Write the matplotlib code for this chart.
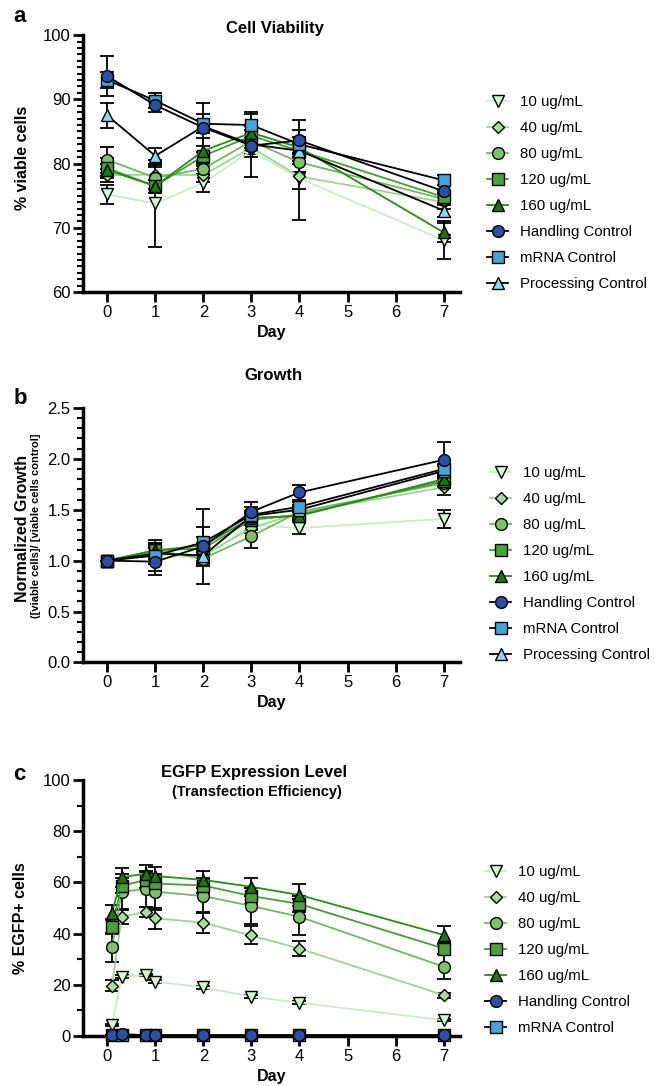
import numpy as np
import matplotlib
matplotlib.use("Agg")
from matplotlib import pyplot as plt
from matplotlib.ticker import MultipleLocator

plt.rcParams["font.family"] = ["Liberation Sans", "DejaVu Sans"]

days = [0, 1, 2, 3, 4, 7]
days_c = [0.1, 0.3, 0.8, 1, 2, 3, 4, 7]

labels = ["10 ug/mL", "40 ug/mL", "80 ug/mL", "120 ug/mL", "160 ug/mL",
          "Handling Control", "mRNA Control", "Processing Control"]

# panel a: % viable cells
via_10 = [75.2, 73.8, 77.0, 82.0, 77.7, 68.1]
via_40 = [78.2, 78.3, 78.2, 82.5, 78.0, 74.0]
via_80 = [80.6, 77.8, 79.2, 83.5, 80.2, 74.5]
via_120 = [79.3, 76.5, 81.2, 84.3, 82.0, 74.8]
via_160 = [79.0, 76.5, 82.0, 84.8, 82.5, 69.3]
via_hand = [93.6, 89.1, 85.6, 82.8, 83.6, 75.7]
via_mrna = [93.0, 89.8, 86.2, 86.0, 83.0, 77.4]
via_proc = [87.5, 81.2, 85.8, 83.0, 82.0, 72.7]
via_err_10 = [1.5, 6.7, 1.4, 1.0, 6.4, 3.0]
via_err_40 = [1.0, 1.5, 1.0, 1.0, 2.0, 1.0]
via_err_80 = [2.0, 1.7, 1.0, 1.0, 1.5, 1.0]
via_err_120 = [1.5, 1.0, 1.5, 1.0, 1.0, 1.0]
via_err_160 = [1.0, 1.0, 2.0, 1.0, 1.0, 1.5]
via_err_hand = [3.1, 1.0, 3.8, 4.9, 3.2, 1.0]
via_err_mrna = [1.3, 1.2, 1.5, 2.0, 2.2, 0.8]
via_err_proc = [2.0, 1.3, 1.0, 1.0, 1.0, 1.0]

# panel b: normalized growth
gro_10 = [1.0, 1.05, 1.03, 1.35, 1.32, 1.41]
gro_40 = [1.0, 1.08, 1.05, 1.32, 1.47, 1.72]
gro_80 = [1.0, 1.10, 1.02, 1.24, 1.48, 1.76]
gro_120 = [1.0, 1.10, 1.12, 1.40, 1.45, 1.78]
gro_160 = [1.0, 1.10, 1.15, 1.42, 1.44, 1.80]
gro_hand = [1.0, 0.99, 1.14, 1.48, 1.67, 1.99]
gro_mrna = [1.0, 1.05, 1.18, 1.45, 1.53, 1.90]
gro_proc = [1.0, 1.07, 1.05, 1.44, 1.50, 1.88]
gro_err_10 = [0.0, 0.08, 0.05, 0.05, 0.06, 0.09]
gro_err_40 = [0.0, 0.06, 0.05, 0.05, 0.05, 0.08]
gro_err_80 = [0.0, 0.06, 0.05, 0.12, 0.05, 0.05]
gro_err_120 = [0.0, 0.06, 0.05, 0.05, 0.05, 0.05]
gro_err_160 = [0.0, 0.06, 0.08, 0.05, 0.05, 0.05]
gro_err_hand = [0.0, 0.13, 0.37, 0.10, 0.07, 0.18]
gro_err_mrna = [0.0, 0.15, 0.15, 0.08, 0.05, 0.05]
gro_err_proc = [0.0, 0.10, 0.10, 0.05, 0.05, 0.05]

# panel c: % EGFP+ cells
egfp_10 = [4.3, 23.2, 23.8, 21.2, 19.0, 15.4, 13.0, 6.2]
egfp_40 = [19.7, 46.6, 48.6, 46.0, 44.3, 39.3, 34.2, 16.0]
egfp_80 = [34.6, 56.4, 57.4, 56.4, 54.7, 50.8, 46.6, 27.1]
egfp_120 = [42.7, 58.7, 61.0, 59.6, 58.8, 54.7, 51.6, 34.2]
egfp_160 = [48.2, 62.0, 63.5, 62.5, 61.0, 58.3, 55.1, 39.5]
egfp_hand = [0.3, 0.8, 0.3, 0.3, 0.3, 0.3, 0.3, 0.3]
egfp_mrna = [0.3, 0.5, 0.3, 0.3, 0.3, 0.3, 0.3, 0.3]
egfp_err_10 = [0.5, 0.5, 0.5, 0.5, 0.5, 0.5, 0.5, 0.5]
egfp_err_40 = [2.0, 3.0, 2.0, 4.0, 4.0, 3.5, 3.0, 1.0]
egfp_err_80 = [5.5, 7.0, 7.0, 7.0, 6.5, 7.0, 7.0, 5.0]
egfp_err_120 = [3.0, 3.0, 3.0, 3.0, 3.0, 3.0, 3.0, 2.0]
egfp_err_160 = [3.0, 3.7, 3.5, 3.5, 3.3, 3.5, 4.2, 3.5]
egfp_err_hand = [0.2, 0.2, 0.2, 0.2, 0.2, 0.2, 0.2, 0.2]
egfp_err_mrna = [0.2, 0.2, 0.2, 0.2, 0.2, 0.2, 0.2, 0.2]

markers = ["v", "D", "o", "s", "^", "o", "s", "^"]
msizes = [8, 6.5, 8.5, 8.5, 8.5, 8.5, 8.5, 8.5]
fills = ["#d8f4d6", "#a9dc9d", "#7ec06c", "#4f9e3f", "#1d7612",
         "#2f4e9b", "#4aa2d2", "#92d2ef"]
lines = ["#c9eec6", "#9ed493", "#72b862", "#4b9a3b", "#2a8a1c",
         "black", "black", "black"]
# handling control drawn on top, then mRNA, then processing
zorders = [3.0, 3.1, 3.2, 3.3, 3.4, 3.7, 3.6, 3.5]


def draw_panel(ax, x, series, errs, n):
    for i in range(n):
        ax.errorbar(x, series[i], yerr=errs[i], fmt="none", ecolor="black",
                    elinewidth=1.3, capsize=5, capthick=1.3, zorder=2)
    for i in range(n):
        ax.plot(x, series[i], color=lines[i], lw=1.3, marker=markers[i],
                ms=msizes[i], mfc=fills[i], mec="black", mew=1.0,
                label=labels[i], zorder=zorders[i], clip_on=False)
    ax.spines["top"].set_visible(False)
    ax.spines["right"].set_visible(False)
    ax.spines["left"].set_linewidth(2.5)
    ax.spines["bottom"].set_linewidth(2.5)
    ax.tick_params(which="major", width=2, length=7, labelsize=12,
                   direction="out", pad=2)
    ax.tick_params(which="minor", width=1.5, length=4.5, direction="out")
    ax.set_xlim(-0.5, 7.35)
    ax.set_xticks([0, 1, 2, 3, 4, 5, 6, 7])


def add_legend(ax, x_px, top_px):
    ax.legend(loc="upper left", bbox_to_anchor=(x_px / 655, 1 - top_px / 1086),
              bbox_transform=fig.transFigure, frameon=False, fontsize=10.8,
              handlelength=1.4, handletextpad=0.8, labelspacing=0.8,
              borderpad=0, borderaxespad=0)


fig = plt.figure(figsize=(6.55, 10.86), dpi=100)

# panel a
ax1 = fig.add_axes([0.127, 0.731, 0.576, 0.2367])
draw_panel(ax1, days,
           [via_10, via_40, via_80, via_120, via_160, via_hand, via_mrna, via_proc],
           [via_err_10, via_err_40, via_err_80, via_err_120, via_err_160,
            via_err_hand, via_err_mrna, via_err_proc], 8)
ax1.set_ylim(60, 100)
ax1.yaxis.set_major_locator(MultipleLocator(10))
ax1.yaxis.set_minor_locator(MultipleLocator(1))
add_legend(ax1, 487, 95)
fig.text(0.034, 1 - 158 / 1086, "% viable cells", rotation=90, fontsize=11.5,
         fontweight="bold", ha="center", va="center")
fig.text(0.415, 1 - 332 / 1086, "Day", fontsize=11.5, fontweight="bold",
         ha="center", va="center")

# panel b
ax2 = fig.add_axes([0.127, 0.390, 0.576, 0.2344])
draw_panel(ax2, days,
           [gro_10, gro_40, gro_80, gro_120, gro_160, gro_hand, gro_mrna, gro_proc],
           [gro_err_10, gro_err_40, gro_err_80, gro_err_120, gro_err_160,
            gro_err_hand, gro_err_mrna, gro_err_proc], 8)
ax2.set_ylim(0, 2.5)
ax2.yaxis.set_major_locator(MultipleLocator(0.5))
ax2.yaxis.set_minor_locator(MultipleLocator(0.1))
add_legend(ax2, 490, 466)
fig.text(0.034, 1 - 528 / 1086, "Normalized Growth", rotation=90, fontsize=11.5,
         fontweight="bold", ha="center", va="center")
fig.text(0.055, 1 - 526 / 1086, "([viable cells]/ [viable cells control]",
         rotation=90, fontsize=8, fontweight="bold", ha="center", va="center")
fig.text(0.415, 1 - 703 / 1086, "Day", fontsize=11.5, fontweight="bold",
         ha="center", va="center")

# panel c
ax3 = fig.add_axes([0.127, 0.046, 0.576, 0.2357])
draw_panel(ax3, days_c,
           [egfp_10, egfp_40, egfp_80, egfp_120, egfp_160, egfp_hand, egfp_mrna],
           [egfp_err_10, egfp_err_40, egfp_err_80, egfp_err_120, egfp_err_160,
            egfp_err_hand, egfp_err_mrna], 7)
ax3.set_ylim(0, 100)
ax3.yaxis.set_major_locator(MultipleLocator(20))
ax3.yaxis.set_minor_locator(MultipleLocator(10))
add_legend(ax3, 485, 865)
fig.text(0.032, 1 - 918 / 1086, "% EGFP+ cells", rotation=90, fontsize=11.5,
         fontweight="bold", ha="center", va="center")
fig.text(0.415, 1 - 1076 / 1086, "Day", fontsize=11.5, fontweight="bold",
         ha="center", va="center")

# titles and panel letters
fig.text(0.42, 1 - 28 / 1086, "Cell Viability", fontsize=12, fontweight="bold",
         ha="center", va="center")
fig.text(0.417, 1 - 375 / 1086, "Growth", fontsize=12, fontweight="bold",
         ha="center", va="center")
fig.text(0.388, 1 - 772 / 1086, "EGFP Expression Level", fontsize=12,
         fontweight="bold", ha="center", va="center")
fig.text(0.392, 1 - 792 / 1086, "(Transfection Efficiency)", fontsize=10.5,
         fontweight="bold", ha="center", va="center")
fig.text(0.02, 1 - 16 / 1086, "a", fontsize=16, fontweight="bold",
         ha="left", va="center")
fig.text(0.02, 1 - 398 / 1086, "b", fontsize=16, fontweight="bold",
         ha="left", va="center")
fig.text(0.02, 1 - 774 / 1086, "c", fontsize=16, fontweight="bold",
         ha="left", va="center")

fig.savefig("out.png", dpi=100)
